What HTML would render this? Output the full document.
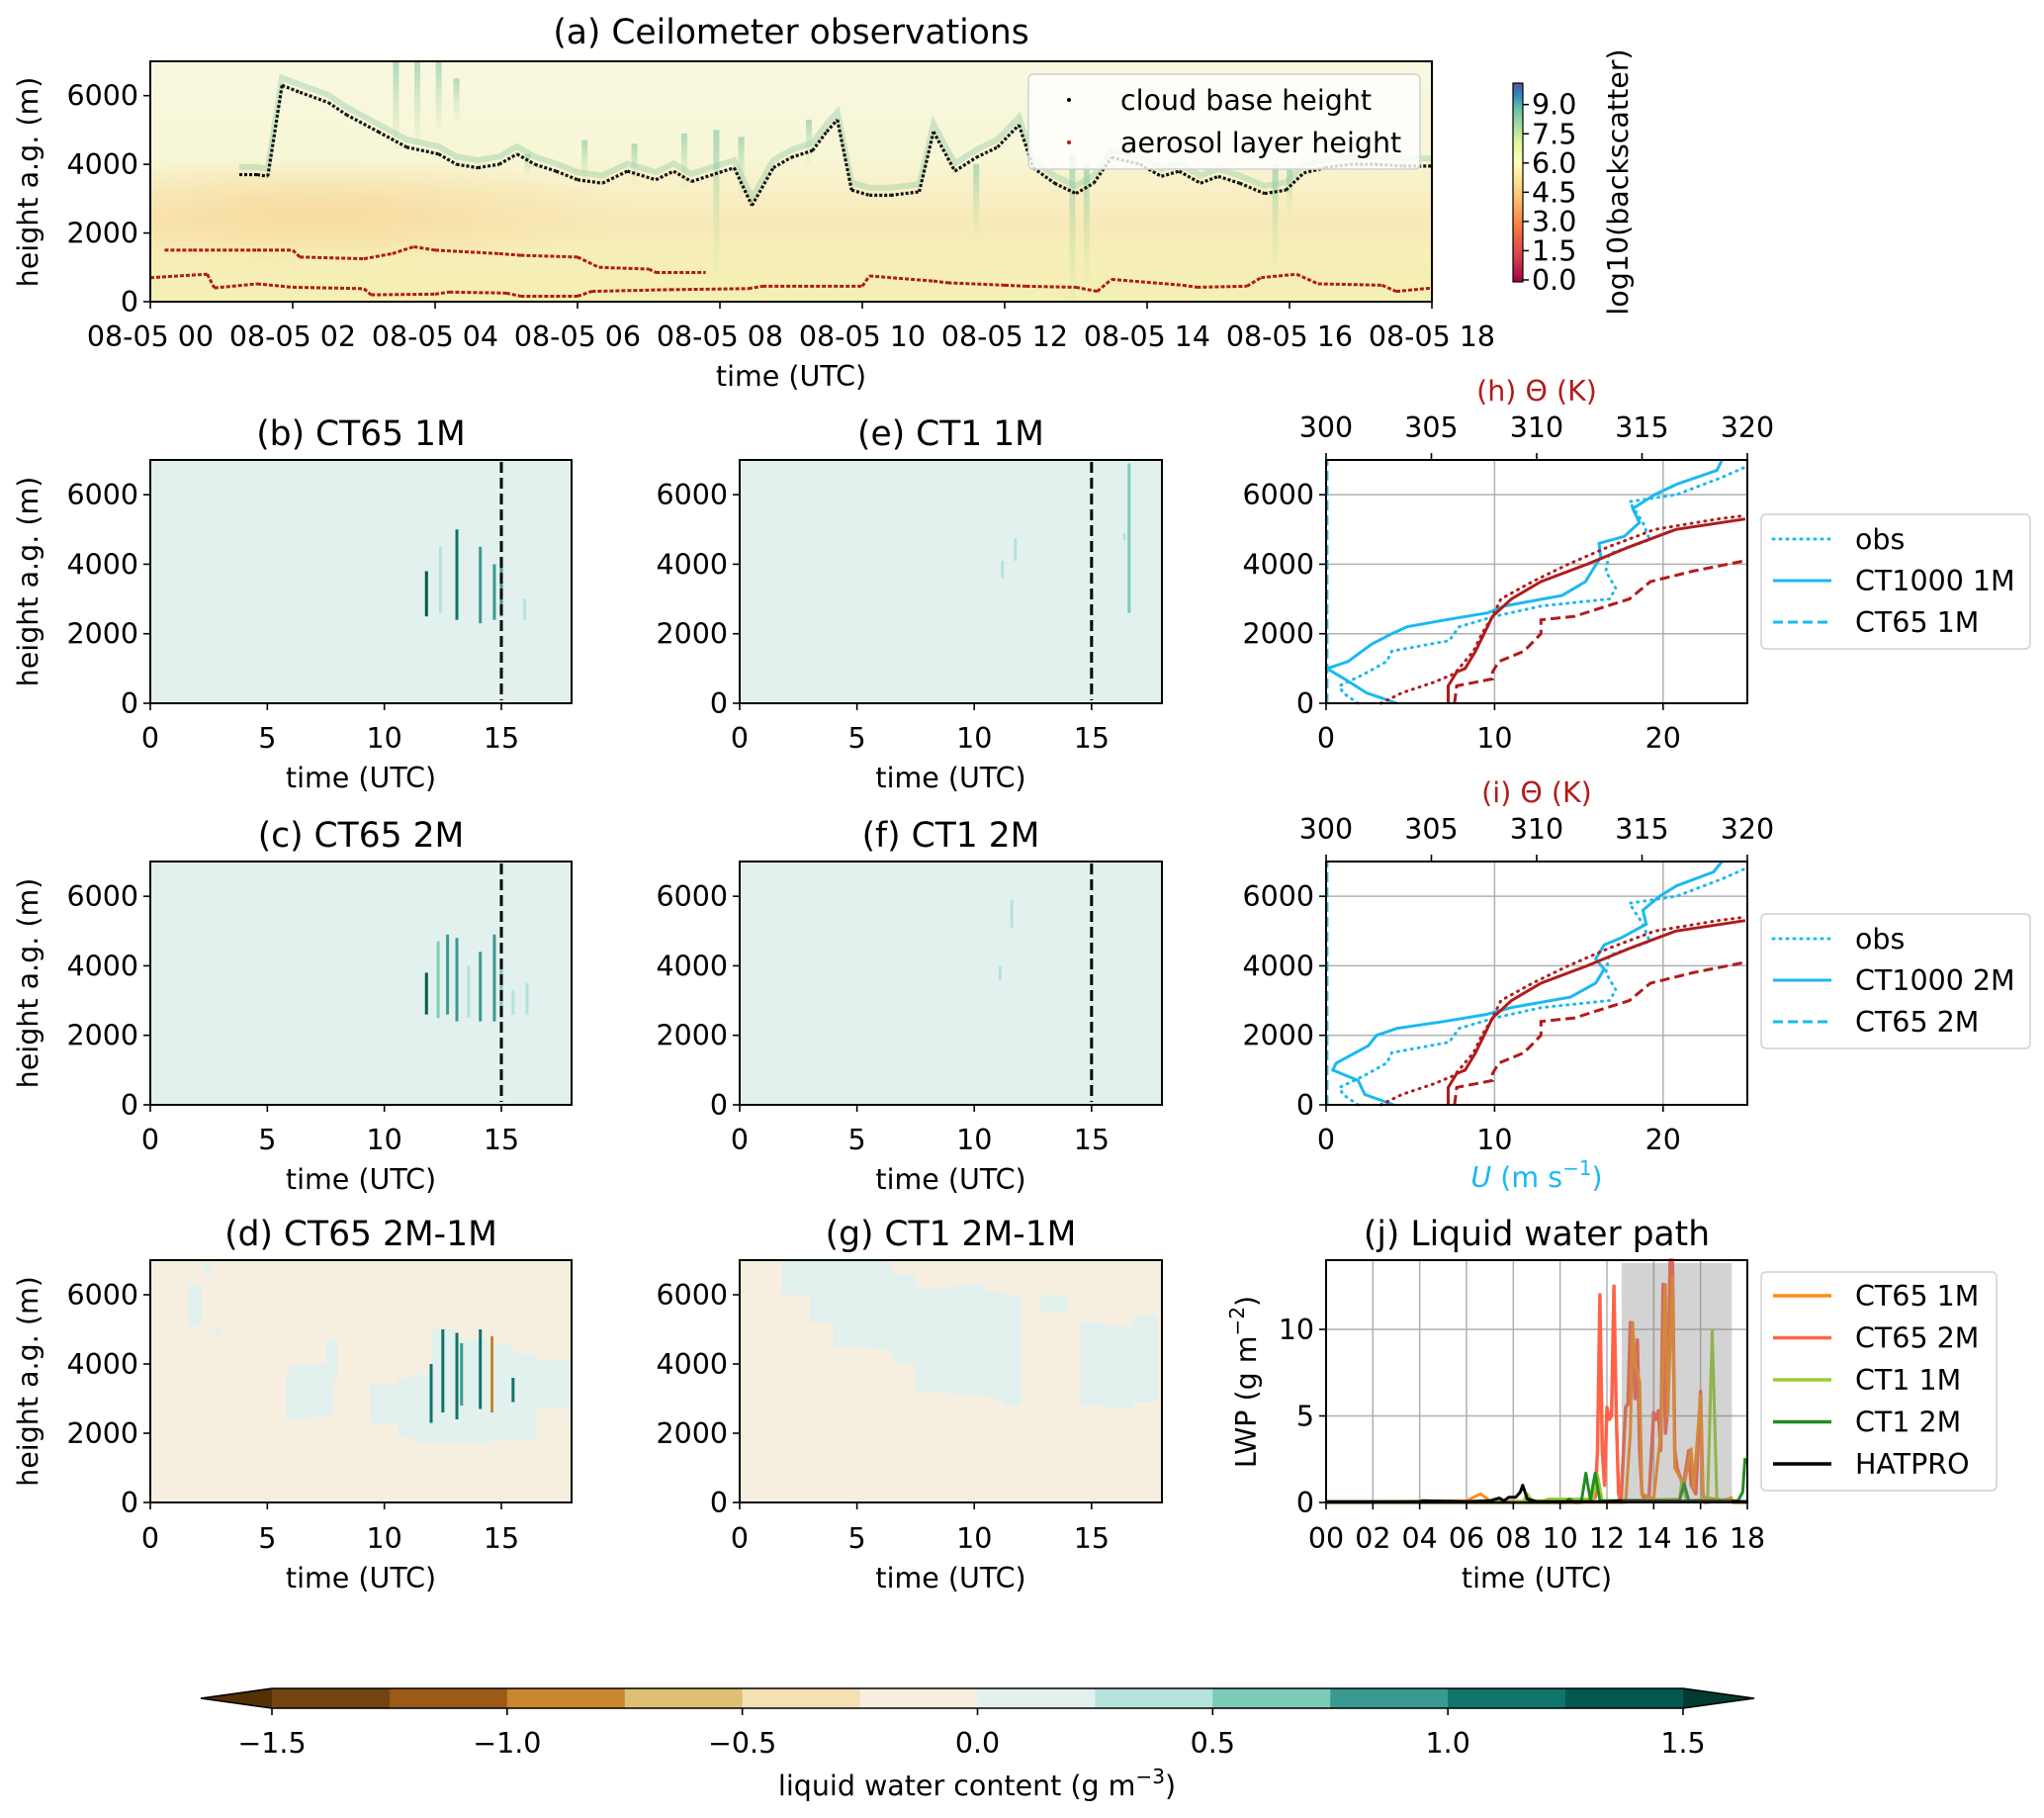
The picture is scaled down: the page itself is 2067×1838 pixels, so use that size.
<!DOCTYPE html>
<html><head><meta charset="utf-8">
<style>
html,body{margin:0;padding:0;background:#fff;}
svg{display:block;font-family:"DejaVu Sans","Liberation Sans",sans-serif;}
</style></head>
<body>
<svg id="fig" xmlns="http://www.w3.org/2000/svg" width="2067" height="1838" viewBox="0 0 2067 1838">
<defs>
<linearGradient id="ceilBg" x1="0" y1="0" x2="0" y2="1">
<stop offset="0" stop-color="#f8f8e0"/><stop offset="0.4" stop-color="#f7f6d6"/>
<stop offset="0.55" stop-color="#f8efc4"/><stop offset="0.68" stop-color="#f8eab8"/>
<stop offset="0.8" stop-color="#f6efb6"/><stop offset="1" stop-color="#f4efb2"/>
</linearGradient>
<radialGradient id="orangeTint" cx="0.5" cy="0.5" r="0.5">
<stop offset="0" stop-color="#f6cf8a" stop-opacity="0.6"/><stop offset="1" stop-color="#f6cf8a" stop-opacity="0"/>
</radialGradient>
<clipPath id="clipA"><rect x="152" y="62" width="1296" height="243"/></clipPath>
<linearGradient id="spectral" x1="0" y1="1" x2="0" y2="0">
<stop offset="0" stop-color="#9e0142"/><stop offset="0.12" stop-color="#d53e4f"/><stop offset="0.25" stop-color="#f46d43"/>
<stop offset="0.38" stop-color="#fdae61"/><stop offset="0.5" stop-color="#fee08b"/><stop offset="0.6" stop-color="#ffffbf"/>
<stop offset="0.7" stop-color="#e6f598"/><stop offset="0.78" stop-color="#abdda4"/><stop offset="0.87" stop-color="#66c2a5"/>
<stop offset="0.94" stop-color="#3288bd"/><stop offset="1" stop-color="#5e4fa2"/>
</linearGradient>
<linearGradient id="streakGrad" x1="0" y1="0" x2="0" y2="1">
<stop offset="0" stop-color="#7cc4a4" stop-opacity="0.6"/><stop offset="1" stop-color="#c4e29e" stop-opacity="0.1"/>
</linearGradient>
</defs>
</svg>
<script>
// ---------------- DATA ----------------
const cbTime = [1.25,1.5,1.65,1.85,2.1,2.5,2.75,3.2,3.6,4.05,4.3,4.6,4.9,5.15,5.4,5.7,6.0,6.35,6.7,7.1,7.35,7.6,8.2,8.45,8.75,9.0,9.3,9.5,9.65,9.85,10.1,10.4,10.8,11.0,11.3,11.6,11.9,12.2,12.4,12.7,13.0,13.25,13.5,13.9,14.2,14.45,14.75,15.0,15.3,15.65,15.95,16.2,16.5,16.85,17.2,17.6,18.0];
const cbHeight = [3700,3700,3650,6300,6100,5800,5450,4950,4500,4300,4000,3900,4000,4300,4000,3800,3550,3450,3800,3550,3800,3500,3900,2800,3900,4200,4400,4950,5300,3250,3100,3100,3200,4950,3800,4200,4500,5150,3900,3450,3150,3450,4200,4000,3650,3800,3450,3650,3450,3150,3250,3750,3900,4000,4000,3950,3950];
const alLowTime = [0,0.8,0.9,1.5,2.0,3.0,3.1,4.0,4.2,5.0,5.2,6.0,6.2,7.3,8.4,8.6,10.0,10.1,11.0,11.2,12.0,12.3,13.0,13.3,13.5,14.5,14.7,15.4,15.6,16.1,16.4,17.3,17.5,18.0];
const alLowHeight = [700,800,400,520,420,380,200,220,280,250,160,160,300,350,380,450,450,750,600,550,480,450,420,300,650,480,420,450,700,800,520,480,300,400];
const alUpTime = [0.2,0.6,1.5,2.0,2.1,3.0,3.4,3.7,4.0,4.9,5.2,6.0,6.3,7.0,7.1,7.8];
const alUpHeight = [1500,1500,1500,1500,1300,1250,1400,1600,1500,1400,1350,1300,1000,950,850,850];
const stT = [3.45,3.75,4.05,4.3,5.3,6.1,6.8,7.5,7.95,8.3,9.25,11.6,12.95,13.15,15.8,16.0,17.0];
const stTop = [7000,7000,7000,6500,4300,4700,4600,4900,5000,4800,5300,4000,4300,4000,4000,3900,4300];
const stBot = [4400,4600,5000,5300,3700,3500,3400,3300,800,3000,4000,1900,0,600,1000,2600,3800];
const bT=[11.8,12.4,13.1,14.1,14.7,15.0,16.0]; const bB=[2500,2600,2400,2300,2400,2500,2400]; const bTop=[3800,4500,5000,4500,4000,4100,3000]; const bV=[1.4,0.4,1.0,0.8,0.9,0.8,0.4];
const cT=[11.8,12.3,12.7,13.1,13.6,14.1,14.7,15.0,15.5,16.1]; const cB=[2600,2500,2600,2400,2500,2400,2400,2500,2600,2600]; const cTop=[3800,4700,4900,4800,4000,4400,4900,4200,3300,3500]; const cV=[1.3,0.6,0.9,0.8,0.4,0.9,0.8,0.7,0.4,0.4];
const eT=[11.2,11.75,16.6,16.4]; const eB=[3600,4100,2600,4700]; const eTop=[4100,4750,6900,4900]; const eV=[0.4,0.4,0.5,0.3];
const fT=[11.1,11.6]; const fB=[3600,5100]; const fTop=[4000,5900]; const fV=[0.4,0.4];
const dP0=[1.6,2.8,5.8,6.0,7.5,9.4,10.6,11.2,12.0,13.0,14.5,15.5,16.5,2.3];
const dP1=[2.2,3.0,6.8,7.8,8.0,11.0,11.5,12.5,13.0,14.5,15.5,16.5,18.0,2.6];
const dH0=[5100,4800,2400,2500,3500,2300,1900,1700,1700,1700,1800,1800,2700,6600];
const dH1=[6300,5100,3800,4000,4700,3400,3600,3700,5000,4700,4600,4300,4100,7000];
const dStT=[12.0,12.5,13.1,13.3,14.1,14.6,15.5]; const dStB=[2300,2600,2400,2800,2700,2600,2900]; const dStTop=[4000,5000,4900,4600,5000,4800,3600]; const dStV=[1.0,1.2,1.0,0.8,1.1,-0.8,1.0];
const gP0=[1.8,3.0,4.0,5.5,6.5,7.5,9.0,10.5,11.2,14.5,15.5,16.8,12.8];
const gP1=[3.0,4.0,5.5,6.5,7.5,9.0,10.5,11.2,12.0,15.5,16.8,17.8,14.0];
const gH0=[6000,5200,4500,4400,4000,3200,3100,3000,2800,2800,2700,2900,5500];
const gH1=[7000,7000,7000,7000,6600,6200,6300,6100,6000,5200,5100,5400,6000];
const profH_uObs=[0,300,500,800,1200,1500,1800,2200,2500,2800,3000,3300,3800,4300,4700,5200,5800,6000,6500,6800];
const uObs=[1.9,1.0,0.8,2.1,3.6,3.9,7.3,7.9,10.0,12.8,16.8,17.2,16.6,16.8,19.2,18.8,18.0,20.8,23.5,24.9];
const profH_uCT=[0,300,700,1000,1200,1700,2000,2200,2400,2600,2800,3100,3500,3900,4200,4600,4800,5200,5600,6000,6300,6700,7000];
const uCT1000_1M=[4.2,2.4,1.1,0.06,1.3,2.7,3.9,4.8,7.1,9.6,10.6,14.0,15.4,15.9,16.3,16.2,17.7,18.6,18.2,19.5,20.8,23.2,23.5];
const uCT1000_2M=[4.0,2.3,1.9,0.4,0.6,2.5,3.0,4.2,7.0,9.5,11.0,14.5,16.0,16.5,16.0,16.5,17.5,19.0,18.8,19.8,20.8,23.0,23.5];
const profH_u65=[0,7000]; const uCT65=[0.05,0.05];
const profH_th=[0,500,900,1000,1500,2000,2500,3000,3500,4000,4500,5000,5300];
const thCT1000=[305.8,305.8,306.2,306.6,307.1,307.5,307.9,308.8,310.2,312.4,314.4,316.6,319.9];
const profH_thObs=[0,300,600,850,1500,2000,2500,3000,3500,4000,4500,5000,5300,5400];
const thObs=[302.6,303.6,305.1,306.1,307.0,307.4,307.9,308.3,309.8,311.5,313.4,315.6,318.6,319.9];
const profH_th65=[0,500,700,900,1200,1500,2000,2400,2500,3000,3500,3800,4100];
const thCT65=[306.1,306.2,307.9,307.9,308.2,309.4,310.2,310.2,311.8,314.4,315.4,317.4,319.9];
const lwpT65_2=[0,10.9,11.5,11.6,11.7,11.8,11.9,12.0,12.1,12.2,12.3,12.4,12.5,12.6,12.8,12.9,13.0,13.1,13.2,13.3,13.4,13.5,13.6,13.8,14.0,14.1,14.2,14.3,14.4,14.5,14.6,14.7,14.8,14.9,15.0,15.2,15.3,15.5,15.6,15.8,16.0,16.1,16.2,17.3,17.4,18];
const lwpV65_2=[0,0,0.3,3,12,3,1,5.5,4.8,5,12.5,5,0.5,0,5.5,5.7,10.4,9,6,9.4,3,0.5,0.2,0.3,5.2,4.8,5.3,3,12.6,4,5.5,14,14,3,2,1.2,1.3,3,1,0.5,6.4,0.5,0,0.2,0,0];
const lwpT65_1=[0,6.0,6.6,7.0,10.9,12.8,13.0,13.1,13.2,13.4,13.5,14.0,14.3,14.5,14.6,14.8,14.9,15.3,15.6,15.7,16.0,16.1,17.2,17.3,17.4,18];
const lwpV65_1=[0,0.1,0.5,0.1,0,0,4,10.4,8,7,0.5,0.2,4,12.6,5,13,2,1,3.1,0.8,6.2,0.3,0.1,0.3,0,0];
const lwpT1_1=[0,8.4,8.6,8.8,9.3,9.5,11.4,11.6,11.8,15.1,15.2,15.4,16.3,16.5,16.7,18];
const lwpV1_1=[0,0,0.5,0.1,0.1,0.2,0.2,1.6,0.1,0.2,1.2,0.1,0.2,9.9,0.2,0];
const lwpT1_2=[0,10.2,10.4,10.6,10.9,11.1,11.3,11.4,11.5,11.7,15.1,15.3,15.5,17.6,17.8,17.9,18];
const lwpV1_2=[0,0,0.2,0,0,1.7,0.1,1.0,1.7,0.1,0.1,1.1,0.1,0.1,0.6,2.5,2.3];
const lwpTh=[0,4.0,4.1,6.0,7.0,7.4,7.6,7.8,8.1,8.3,8.4,8.6,9.0,10,12,12.5,18];
const lwpVh=[0.05,0.05,0.1,0.05,0.1,0.25,0.1,0.3,0.3,0.6,1.0,0.2,0.05,0.05,0.05,0.1,0.05];
const shadeT=[12.63,17.34];
const lwcLevels=[-1.5,-1.25,-1.0,-0.75,-0.5,-0.25,0,0.25,0.5,0.75,1.0,1.25,1.5];
const lwcColors=['#744311','#9c5a16','#c8862f','#dfbf74','#f5dfb5','#f6efe0','#e2f0ee','#b4e3dc','#7ccbb6','#3a9a92','#0f746b','#04584f'];
const lwcTicks=[-1.5,-1.0,-0.5,0.0,0.5,1.0,1.5];
const bsTicks=[0.0,1.5,3.0,4.5,6.0,7.5,9.0];

// ---------------- HELPERS ----------------
const NS='http://www.w3.org/2000/svg';
const S=document.getElementById('fig');
function E(tag,attrs,parent){const e=document.createElementNS(NS,tag);for(const k in attrs)e.setAttribute(k,attrs[k]);(parent||S).appendChild(e);return e;}
function txt(x,y,s,size,anchor,parent,fill,rot){const e=E('text',{x:x,y:y,'font-size':size,'text-anchor':anchor||'middle',fill:fill||'#000'},parent);if(rot)e.setAttribute('transform','rotate('+rot+' '+x+' '+y+')');e.textContent=s;return e;}
function lwcColor(v){for(let i=0;i<lwcColors.length;i++){if(v<lwcLevels[i+1])return lwcColors[i];}return '#003c30';}
const FS=28.5, TS=34.5;
const SUP='<tspan dy="-12" font-size="20">';

function panelFrame(g,x0,y0,x1,y1){
  const r=E('rect',{x:x0,y:y0,width:x1-x0,height:y1-y0,fill:'none',stroke:'#000','stroke-width':2},g);
  
  
}
function yTicks(g,x0,y0,y1,vals,ymax){
  vals.forEach(v=>{const y=y1-v/ymax*(y1-y0);
    E('line',{x1:x0-7,x2:x0,y1:y,y2:y,stroke:'#000','stroke-width':1.6},g);
    const t=txt(x0-12,y+10,String(v),FS,'end',g);
    
    });
}
function xTicks(g,x0,x1,y1,vals,xmax,labels,ly){
  vals.forEach((v,i)=>{const x=x0+v/xmax*(x1-x0);
    E('line',{x1:x,x2:x,y1:y1,y2:y1+7,stroke:'#000','stroke-width':1.6},g);
    const t=txt(x,ly,labels?labels[i]:String(v),FS,'middle',g);
    
    });
}

// ---------------- PANEL (a) ----------------
(function(){
  const x0=152,x1=1448,y0=62,y1=305;
  const g=E('g',{});
  
  
  const sx=t=>x0+t/18*(x1-x0), sy=h=>y1-h/7000*(y1-y0);
  const inner=E('g',{'clip-path':'url(#clipA)'},g);
  E('rect',{x:x0,y:y0,width:x1-x0,height:y1-y0,fill:'url(#ceilBg)'},inner);
  E('ellipse',{cx:sx(2.3),cy:sy(2600),rx:sx(4.5)-sx(0),ry:55,fill:'url(#orangeTint)'},inner);
  stT.forEach((t,i)=>{
    const r=E('rect',{x:sx(t)-3,y:sy(stTop[i]),width:6,height:sy(stBot[i])-sy(stTop[i]),fill:'url(#streakGrad)'},inner);
    
    
  });
  let d='';
  cbTime.forEach((t,i)=>{d+=(i?'L':'M')+sx(t).toFixed(1)+' '+sy(cbHeight[i]+220).toFixed(1);});
  const cl=E('path',{d:d,fill:'none',stroke:'#8fcaa6','stroke-width':6,'stroke-opacity':0.4},inner);
  
  
  for(let i=0;i<cbTime.length-1;i++){
    if(cbTime[i+1]-cbTime[i]>0.6)continue;
    const s=E('line',{x1:sx(cbTime[i]),y1:sy(cbHeight[i]),x2:sx(cbTime[i+1]),y2:sy(cbHeight[i+1]),stroke:'#111','stroke-width':3.2,'stroke-dasharray':'3 2'},inner);
    
    
  }
  function alLine(T,H){
    for(let i=0;i<T.length-1;i++){
      const s=E('line',{x1:sx(T[i]),y1:sy(H[i]),x2:sx(T[i+1]),y2:sy(H[i+1]),stroke:'#b01a1a','stroke-width':3,'stroke-dasharray':'4 2'},inner);
      
      
    }
  }
  alLine(alLowTime,alLowHeight); alLine(alUpTime,alUpHeight);
  panelFrame(g,x0,y0,x1,y1);
  yTicks(g,x0,y0,y1,[0,2000,4000,6000],7000);
  const labs=[];const vals=[];for(let h=0;h<=18;h+=2){vals.push(h);labs.push('08-05 '+String(h).padStart(2,'0'));}
  xTicks(g,x0,x1,y1,vals,18,labs,350);
  let t=txt(800,44,'(a) Ceilometer observations',TS,'middle',g);
  
  
  t=txt(800,390,'time (UTC)',FS,'middle',g);
  
  
  t=txt(38,184,'height a.g. (m)',FS,'middle',g,'#000',-90);
  
  
  const lg=E('g',{},g);
  
  
  E('rect',{x:1040,y:75,width:396,height:96,rx:5,fill:'#fff','fill-opacity':0.82,stroke:'#d0d0d0','stroke-width':1.5},lg);
  E('circle',{cx:1081,cy:101,r:2,fill:'#000'},lg);
  E('circle',{cx:1081,cy:144,r:2,fill:'#b01a1a'},lg);
  t=txt(1133,111,'cloud base height',FS,'start',lg);
  
  
  t=txt(1133,154,'aerosol layer height',FS,'start',lg);
  
  
  const cb=E('g',{},g);
  
  
  const cy=v=>283-v/10*197;
  E('rect',{x:1530,y:cy(10.1),width:10,height:cy(-0.1)-cy(10.1),fill:'url(#spectral)',stroke:'#000','stroke-width':1.2},cb);
  bsTicks.forEach(v=>{E('line',{x1:1540,x2:1546,y1:cy(v),y2:cy(v),stroke:'#000','stroke-width':1.5},cb);
    const tt=txt(1549,cy(v)+10,v.toFixed(1),FS,'start',cb);
    
    });
  t=txt(1646,184,'log10(backscatter)',FS,'middle',cb,'#000',-90);
  
  
})();

// ---------------- LWC panels ----------------
function lwcPanel(name,title,x0,y0,x1,y1,bg,patches,streaks,dashed,showYlab,tickY,labY,titleY){
  const g=E('g',{});
  
  
  const sx=t=>x0+t/18*(x1-x0), sy=h=>y1-h/7000*(y1-y0);
  E('rect',{x:x0,y:y0,width:x1-x0,height:y1-y0,fill:bg},g);
  if(patches){const [P0,P1,H0,H1]=patches;P0.forEach((p,i)=>{
    const r=E('rect',{x:sx(p),y:sy(H1[i]),width:sx(P1[i])-sx(p),height:sy(H0[i])-sy(H1[i]),fill:'#e2f0ee'},g);
    
    });}
  if(streaks){const [T,B,Tp,V]=streaks;T.forEach((t,i)=>{
    const r=E('rect',{x:sx(t)-1.5,y:sy(Tp[i]),width:3,height:sy(B[i])-sy(Tp[i]),fill:lwcColor(V[i])},g);
    
    });}
  if(dashed){const l=E('line',{x1:sx(15),x2:sx(15),y1:y0+2,y2:y1-3,stroke:'#000','stroke-width':3,'stroke-dasharray':'11 5'},g);
    
    }
  panelFrame(g,x0,y0,x1,y1);
  yTicks(g,x0,y0,y1,[0,2000,4000,6000],7000);
  xTicks(g,x0,x1,y1,[0,5,10,15],18,null,tickY);
  let t=txt((x0+x1)/2,titleY,title,TS,'middle',g);
  
  
  t=txt((x0+x1)/2,labY,'time (UTC)',FS,'middle',g);
  
  
  if(showYlab){t=txt(38,(y0+y1)/2,'height a.g. (m)',FS,'middle',g,'#000',-90);
    
    }
}
const R1=[465,711],R2=[871,1117],R3=[1274,1519];
const C1=[152,578],C2=[748,1175],C3=[1341,1767];
lwcPanel('panel-b-ct65-1m','(b) CT65 1M',C1[0],R1[0],C1[1],R1[1],'#e2f0ee',null,[bT,bB,bTop,bV],true,true,756,796,450);
lwcPanel('panel-e-ct1-1m','(e) CT1 1M',C2[0],R1[0],C2[1],R1[1],'#e2f0ee',null,[eT,eB,eTop,eV],true,false,756,796,450);
lwcPanel('panel-c-ct65-2m','(c) CT65 2M',C1[0],R2[0],C1[1],R2[1],'#e2f0ee',null,[cT,cB,cTop,cV],true,true,1162,1202,856);
lwcPanel('panel-f-ct1-2m','(f) CT1 2M',C2[0],R2[0],C2[1],R2[1],'#e2f0ee',null,[fT,fB,fTop,fV],true,false,1162,1202,856);
lwcPanel('panel-d-ct65-diff','(d) CT65 2M-1M',C1[0],R3[0],C1[1],R3[1],'#f6efe0',[dP0,dP1,dH0,dH1],[dStT,dStB,dStTop,dStV],false,true,1565,1605,1259);
lwcPanel('panel-g-ct1-diff','(g) CT1 2M-1M',C2[0],R3[0],C2[1],R3[1],'#f6efe0',[gP0,gP1,gH0,gH1],null,false,false,1565,1605,1259);

// ---------------- Profile panels ----------------
function profPanel(name,letter,y0,y1,uCTsolid,legLabels,legY){
  const x0=C3[0],x1=C3[1];
  const g=E('g',{});
  
  
  const su=u=>x0+u/25*(x1-x0), sth=th=>x0+(th-300)/20*(x1-x0), sy=h=>y1-h/7000*(y1-y0);
  [10,20].forEach(u=>E('line',{x1:su(u),x2:su(u),y1:y0,y2:y1,stroke:'#b0b0b0','stroke-width':1.5},g));
  [2000,4000,6000].forEach(h=>E('line',{x1:x0,x2:x1,y1:sy(h),y2:sy(h),stroke:'#b0b0b0','stroke-width':1.5},g));
  function line(H,V,f,col,dash,nm){
    const d=H.map((h,i)=>(i?'L':'M')+f(V[i]).toFixed(1)+' '+sy(h).toFixed(1)).join('');
    const p=E('path',{d:d,fill:'none',stroke:col,'stroke-width':3,'stroke-dasharray':dash||'none','stroke-linecap':dash==='1 6'?'round':'butt'},g);
    
    
  }
  line(profH_u65,uCT65,su,'#1ab9f0','10 5','u-ct65');
  line(profH_uObs,uObs,su,'#1ab9f0','1 6','u-obs');
  line(profH_uCT,uCTsolid,su,'#1ab9f0',null,'u-ct1000');
  line(profH_th65,thCT65,sth,'#b11b1b','10 5','theta-ct65');
  line(profH_thObs,thObs,sth,'#b11b1b','1 6','theta-obs');
  line(profH_th,thCT1000,sth,'#b11b1b',null,'theta-ct1000');
  panelFrame(g,x0,y0,x1,y1);
  yTicks(g,x0,y0,y1,[0,2000,4000,6000],7000);
  xTicks(g,x0,x1,y1,[0,10,20],25,null,y1+45);
  [300,305,310,315,320].forEach(th=>{const x=sth(th);E('line',{x1:x,x2:x,y1:y0-7,y2:y0,stroke:'#000','stroke-width':1.6},g);
    const t=txt(x,y0-23,String(th),FS,'middle',g);
    
    });
  let t=txt((x0+x1)/2,y0-60,'('+letter+') Θ (K)',FS,'middle',g,'#b11b1b');
  
  
  const lg=E('g',{},g);
  
  
  E('rect',{x:1781,y:legY,width:272,height:136,rx:5,fill:'#fff',stroke:'#d0d0d0','stroke-width':1.5},lg);
  const dashes=['1 6',null,'10 5'];
  legLabels.forEach((s,i)=>{const yy=legY+25+i*42;
    E('line',{x1:1793,x2:1852,y1:yy,y2:yy,stroke:'#1ab9f0','stroke-width':3,'stroke-dasharray':dashes[i]||'none','stroke-linecap':i===0?'round':'butt'},lg);
    const tt=txt(1876,yy+10,s,FS,'start',lg);
    
    });
  return g;
}
profPanel('panel-h-profiles-1m','h',R1[0],R1[1],uCT1000_1M,['obs','CT1000 1M','CT65 1M'],520);
const gi=profPanel('panel-i-profiles-2m','i',R2[0],R2[1],uCT1000_2M,['obs','CT1000 2M','CT65 2M'],924);
let ul=txt(1554,1200,'',FS,'middle',gi,'#1ab9f0');


ul.innerHTML='<tspan font-style="italic">U</tspan> (m s'+SUP+'−1</tspan><tspan dy="12">)</tspan>';

// ---------------- Panel (j) ----------------
(function(){
  const x0=C3[0],x1=C3[1],y0=R3[0],y1=R3[1];
  const g=E('g',{});
  
  
  const sx=t=>x0+t/18*(x1-x0), sy=v=>y1-v/14*(y1-y0);
  for(let h=2;h<18;h+=2)E('line',{x1:sx(h),x2:sx(h),y1:y0,y2:y1,stroke:'#b0b0b0','stroke-width':1.5},g);
  [5,10].forEach(v=>E('line',{x1:x0,x2:x1,y1:sy(v),y2:sy(v),stroke:'#b0b0b0','stroke-width':1.5},g));
  function series(T,V,col,nm,w){
    const d=T.map((t,i)=>(i?'L':'M')+sx(t).toFixed(1)+' '+sy(V[i]).toFixed(1)).join('');
    const p=E('path',{d:d,fill:'none',stroke:col,'stroke-width':w||3,'stroke-linejoin':'round'},g);
    
    
  }
  series(lwpT65_2,lwpV65_2,'#ff6347','series-ct65-2m',3.5);
  series(lwpT65_1,lwpV65_1,'#ff8c1a','series-ct65-1m',3);
  series(lwpT1_1,lwpV1_1,'#9acd32','series-ct1-1m',3);
  series(lwpT1_2,lwpV1_2,'#228b22','series-ct1-2m',3);
  series(lwpTh,lwpVh,'#000','series-hatpro',3);
  const sh=E('rect',{x:sx(shadeT[0]),y:y0+3,width:sx(shadeT[1])-sx(shadeT[0]),height:y1-y0-3,fill:'#808080','fill-opacity':0.35},g);
  
  
  panelFrame(g,x0,y0,x1,y1);
  yTicks(g,x0,y0,y1,[0,5,10],14);
  const v=[],l=[];for(let h=0;h<=18;h+=2){v.push(h);l.push(String(h).padStart(2,'0'));}
  xTicks(g,x0,x1,y1,v,18,l,1565);
  let t=txt(1554,1259,'(j) Liquid water path',TS,'middle',g);
  
  
  t=txt(1554,1605,'time (UTC)',FS,'middle',g);
  
  
  t=txt(1270,1397,'',FS,'middle',g,'#000',-90);
  
  
  t.innerHTML='LWP (g m'+SUP+'−2</tspan><tspan dy="12">)</tspan>';
  const lg=E('g',{},g);
  
  
  E('rect',{x:1781,y:1286,width:238,height:221,rx:5,fill:'#fff',stroke:'#d0d0d0','stroke-width':1.5},lg);
  const cols=['#ff8c1a','#ff6347','#9acd32','#228b22','#000'], labs=['CT65 1M','CT65 2M','CT1 1M','CT1 2M','HATPRO'];
  labs.forEach((s,i)=>{const yy=1310+i*42.5;
    E('line',{x1:1793,x2:1852,y1:yy,y2:yy,stroke:cols[i],'stroke-width':3.5},lg);
    const tt=txt(1876,yy+10,s,FS,'start',lg);
    
    });
})();

// ---------------- LWC colorbar ----------------
(function(){
  const g=E('g',{});
  
  
  const cx=v=>275+(v+1.5)/3*(1702-275), yT=1707,yB=1727;
  for(let i=0;i<lwcColors.length;i++){
    const r=E('rect',{x:cx(lwcLevels[i]),y:yT,width:cx(lwcLevels[i+1])-cx(lwcLevels[i])+0.5,height:yB-yT,fill:lwcColors[i]},g);
    
    
  }
  E('polygon',{points:`${cx(-1.5)},${yT} 203,${(yT+yB)/2} ${cx(-1.5)},${yB}`,fill:'#543005'},g);
  E('polygon',{points:`${cx(1.5)},${yT} 1774,${(yT+yB)/2} ${cx(1.5)},${yB}`,fill:'#003c30'},g);
  E('polygon',{points:`${cx(-1.5)},${yT} ${cx(1.5)},${yT} 1774,${(yT+yB)/2} ${cx(1.5)},${yB} ${cx(-1.5)},${yB} 203,${(yT+yB)/2}`,fill:'none',stroke:'#000','stroke-width':1.6},g);
  lwcTicks.forEach(v=>{E('line',{x1:cx(v),x2:cx(v),y1:yB,y2:yB+7,stroke:'#000','stroke-width':1.6},g);
    const t=txt(cx(v),1772,(v<0?'−':'')+Math.abs(v).toFixed(1),FS,'middle',g);
    
    });
  const t=txt(988,1815,'',FS,'middle',g);
  
  
  t.innerHTML='liquid water content (g m'+SUP+'−3</tspan><tspan dy="12">)</tspan>';
})();
</script>
</body></html>
